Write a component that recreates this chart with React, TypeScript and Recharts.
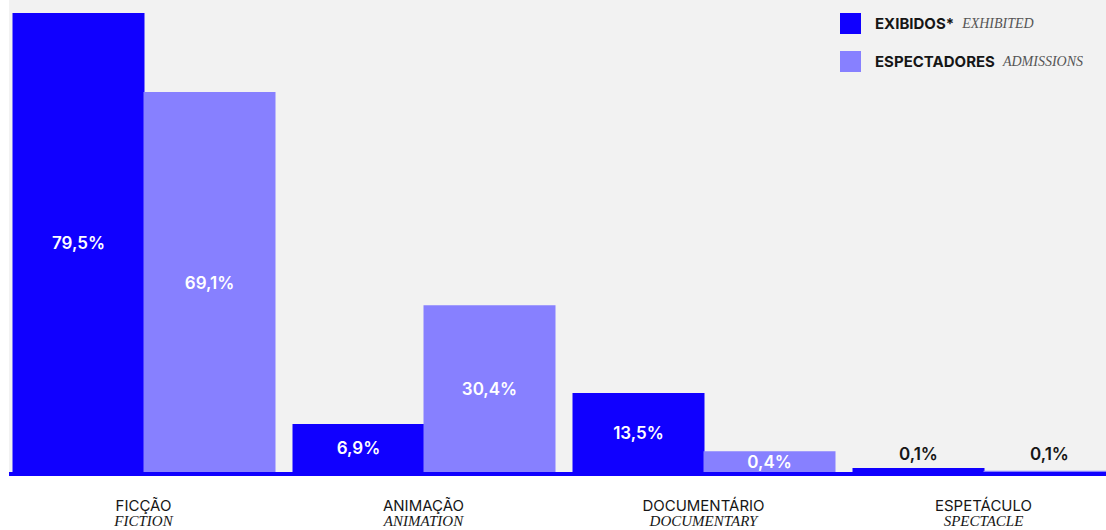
import React from 'react';
import { BarChart, Bar, XAxis, YAxis, CartesianGrid, LabelList, Legend } from 'recharts';

const categoriesPt = ['FICÇÃO', 'ANIMAÇÃO', 'DOCUMENTÁRIO', 'ESPETÁCULO'];
const categoriesEn = ['FICTION', 'ANIMATION', 'DOCUMENTARY', 'SPECTACLE'];
// bar lengths as drawn in the picture (in % units)
const exhibitedValues = [79.5, 8.3, 13.7, 0.7];
const admissionsValues = [65.8, 28.9, 3.6, 0.2];
// printed value labels
const exhibitedLabels = ['79,5%', '6,9%', '13,5%', '0,1%'];
const admissionsLabels = ['69,1%', '30,4%', '0,4%', '0,1%'];
const seriesPt = ['EXIBIDOS*', 'ESPECTADORES'];
const seriesEn = ['EXHIBITED', 'ADMISSIONS'];

const BLUE = '#1000ff';
const LILAC = '#8780ff';
const seriesColors = [BLUE, LILAC];
const BG = '#f2f2f2';
const INK = '#161616';

const data = categoriesPt.map((pt, i) => ({
  pt,
  en: categoriesEn[i],
  exhibited: exhibitedValues[i],
  admissions: admissionsValues[i],
  exLabel: exhibitedLabels[i],
  adLabel: admissionsLabels[i],
}));

const CategoryTick = (props: any) => {
  const { x, y, payload } = props;
  const i = categoriesPt.indexOf(payload.value);
  return (
    <g>
      <text x={x} y={y + 38.5} textAnchor="middle" fontFamily="Inter" fontSize={15} fill={INK}>
        {payload.value}
      </text>
      <text
        x={x}
        y={y + 54}
        textAnchor="middle"
        fontFamily="Liberation Serif"
        fontStyle="italic"
        fontSize={15}
        fill={INK}
      >
        {categoriesEn[i]}
      </text>
    </g>
  );
};

const ValueLabel = (props: any) => {
  const { x, y, width, height, value } = props;
  const small = height < 12;
  const cx = x + width / 2;
  const cy = small ? y + height - 18 : y + height / 2;
  return (
    <text
      x={cx}
      y={cy}
      dy="0.38em"
      textAnchor="middle"
      fontFamily="Inter"
      fontWeight={600}
      fontSize={17}
      fill={small ? INK : '#ffffff'}
    >
      {value}
    </text>
  );
};

const LegendContent = () => {
  return (
    <div>
      {seriesPt.map((name, i) => (
        <div
          key={name}
          style={{ display: 'flex', alignItems: 'center', height: 21, marginBottom: 17, whiteSpace: 'nowrap' }}
        >
          <div style={{ width: 21, height: 21, background: seriesColors[i], marginRight: 14 }} />
          <span style={{ fontFamily: 'Inter', fontWeight: 700, fontSize: 15, color: INK }}>{name}</span>
          <span
            style={{
              fontFamily: 'Liberation Serif',
              fontStyle: 'italic',
              fontSize: 14,
              color: '#555555',
              marginLeft: 8,
            }}
          >
            {seriesEn[i]}
          </span>
        </div>
      ))}
    </div>
  );
};

export default function App() {
  return (
    <div
      style={{ position: 'absolute', left: 0, top: 0, width: 1106, height: 530, overflow: 'hidden', background: '#fff' }}
    >
      <BarChart
        width={1106}
        height={530}
        data={data}
        margin={{ top: 0, right: 0, left: 9, bottom: 0 }}
        barCategoryGap={9}
        barGap={-1}
      >
        <CartesianGrid horizontal={false} vertical={false} fill={BG} stroke="none" />
        <YAxis hide domain={[0, 81.75]} />
        <XAxis
          dataKey="pt"
          height={58}
          padding={{ left: -5.5, right: -17.5 }}
          tickLine={false}
          tickSize={0}
          tickMargin={0}
          interval={0}
          axisLine={{ stroke: BLUE, strokeWidth: 4, transform: 'translate(0,2)' } as any}
          tick={<CategoryTick />}
        />
        <Legend
          layout="vertical"
          align="center"
          verticalAlign="middle"
          wrapperStyle={{ position: 'absolute', top: 13, left: 840, width: 266, height: 80 }}
          content={<LegendContent />}
        />
        <Bar dataKey="exhibited" name={seriesPt[0]} fill={BLUE} isAnimationActive={false}>
          <LabelList dataKey="exLabel" content={<ValueLabel />} />
        </Bar>
        <Bar dataKey="admissions" name={seriesPt[1]} fill={LILAC} isAnimationActive={false}>
          <LabelList dataKey="adLabel" content={<ValueLabel />} />
        </Bar>
      </BarChart>
    </div>
  );
}
